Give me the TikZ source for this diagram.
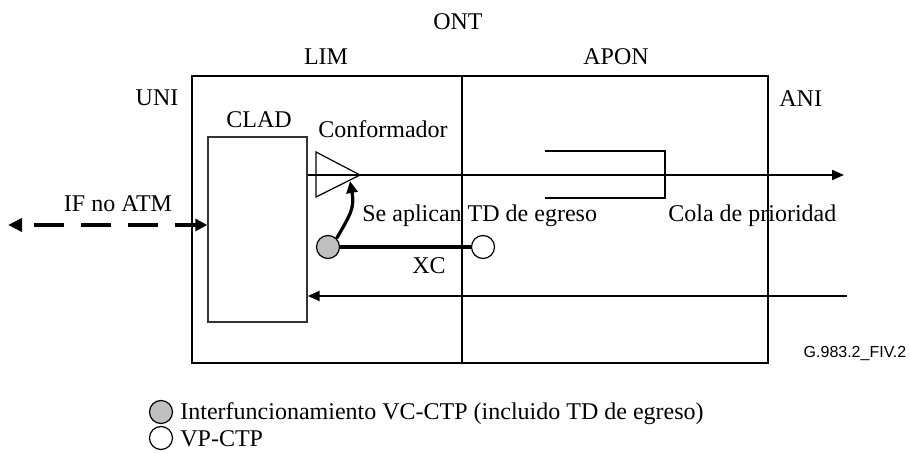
\documentclass[tikz,border=0pt]{standalone}
\usepackage{fontspec}
\setmainfont{Liberation Serif}
\newfontfamily\sansfig{Liberation Sans}
\usetikzlibrary{arrows.meta, positioning, calc}
\definecolor{grigio}{RGB}{192,192,192}

\begin{document}
\begin{tikzpicture}[x=0.5pt, y=-0.5pt, font=\fontsize{12}{14}\selectfont,
    testo/.style={inner sep=0pt, anchor=base},
    testosx/.style={inner sep=0pt, anchor=base west},
    pallino/.style={circle, draw, inner sep=0pt, minimum size=11.5pt, line width=0.6pt},
    freccia/.style={line width=1pt, -{Triangle[length=6pt,width=5pt]}}]
        \useasboundingbox (0,0) rectangle (910,453);
        %disegno riquadro ONT e divisione LIM/APON
        \coordinate (ontNW) at (192,76);
        \coordinate (ontSE) at (768,363);
        \coordinate (div) at (462,76);
        \draw[line width=0.7pt] (ontNW) rectangle (ontSE);
        \draw[line width=1.3pt] (div) -- (div |- ontSE);
        %etichette
        \node[testo] (ont) at (458,30) {ONT};
        \node[testo] (lim) at (326,65) {LIM};
        \node[testo] (apon) at (616,65) {APON};
        \node[testo] (uni) at (157,106) {UNI};
        \node[testosx] (ani) at (779,107) {ANI};
        \node[testo] (clad) at (259,128) {CLAD};
        \node[testosx] (conf) at (318,138) {Conformador};
        \node[testo] (ifatm) at (118,212) {IF no ATM};
        \node[testosx] (td) at (362,222) {Se aplican TD de egreso};
        \node[testosx] (cola) at (668,222) {Cola de prioridad};
        \node[testo] (xc) at (429,274) {XC};
        \node[testo, font=\sansfig\fontsize{8}{9}\selectfont] (fig) at (855,358) {G.983.2\_FIV.2};
        %disegno blocco CLAD
        \node[draw=black!80, line width=0.7pt, minimum width=49.5pt, minimum height=92.5pt, inner sep=0pt] (cladbox) at (257.5,229.5) {};
        %disegno conformatore e coda
        \draw[line width=0.6pt] (316,152) -- (360,175) -- (316,197) -- cycle;
        \draw[line width=0.6pt] (545,151) -| (665,198) -- (545,198);
        %frecce
        \coordinate (ifsx) at (8,225);
        \coordinate (usc) at (844,175);
        \coordinate (ent) at (847,296);
        \coordinate (confin) at (350,181);
        \draw[line width=2pt, dash pattern=on 15pt off 8.5pt, dash phase=17pt,
              {Triangle[length=7pt,width=6.5pt]}-{Triangle[length=6pt,width=6pt]}] (ifsx) -- (cladbox.west |- ifsx);
        \draw[freccia] (cladbox.east |- usc) -- (usc);
        \draw[freccia] (ent) -- (cladbox.east |- ent);
        %disegno punti di connessione
        \node[pallino, fill=grigio] (vc) at (328,247) {};
        \node[pallino, fill=white] (vp) at (483,247) {};
        \draw[line width=2pt] (vc) -- (vp);
        \draw[line width=1.6pt, -{Triangle[length=6pt,width=5.5pt]}] (vc.45) to[out=60, in=-80, looseness=1.2] (confin);
        %legenda
        \node[pallino, fill=grigio] (legvc) at (161,412) {};
        \node[pallino, fill=white] (legvp) at (161,438) {};
        \node[testosx] (leg1) at (180,420) {Interfuncionamiento VC-CTP (incluido TD de egreso)};
        \node[testosx] (leg2) at (180,447) {VP-CTP};
    \end{tikzpicture}
\end{document}
